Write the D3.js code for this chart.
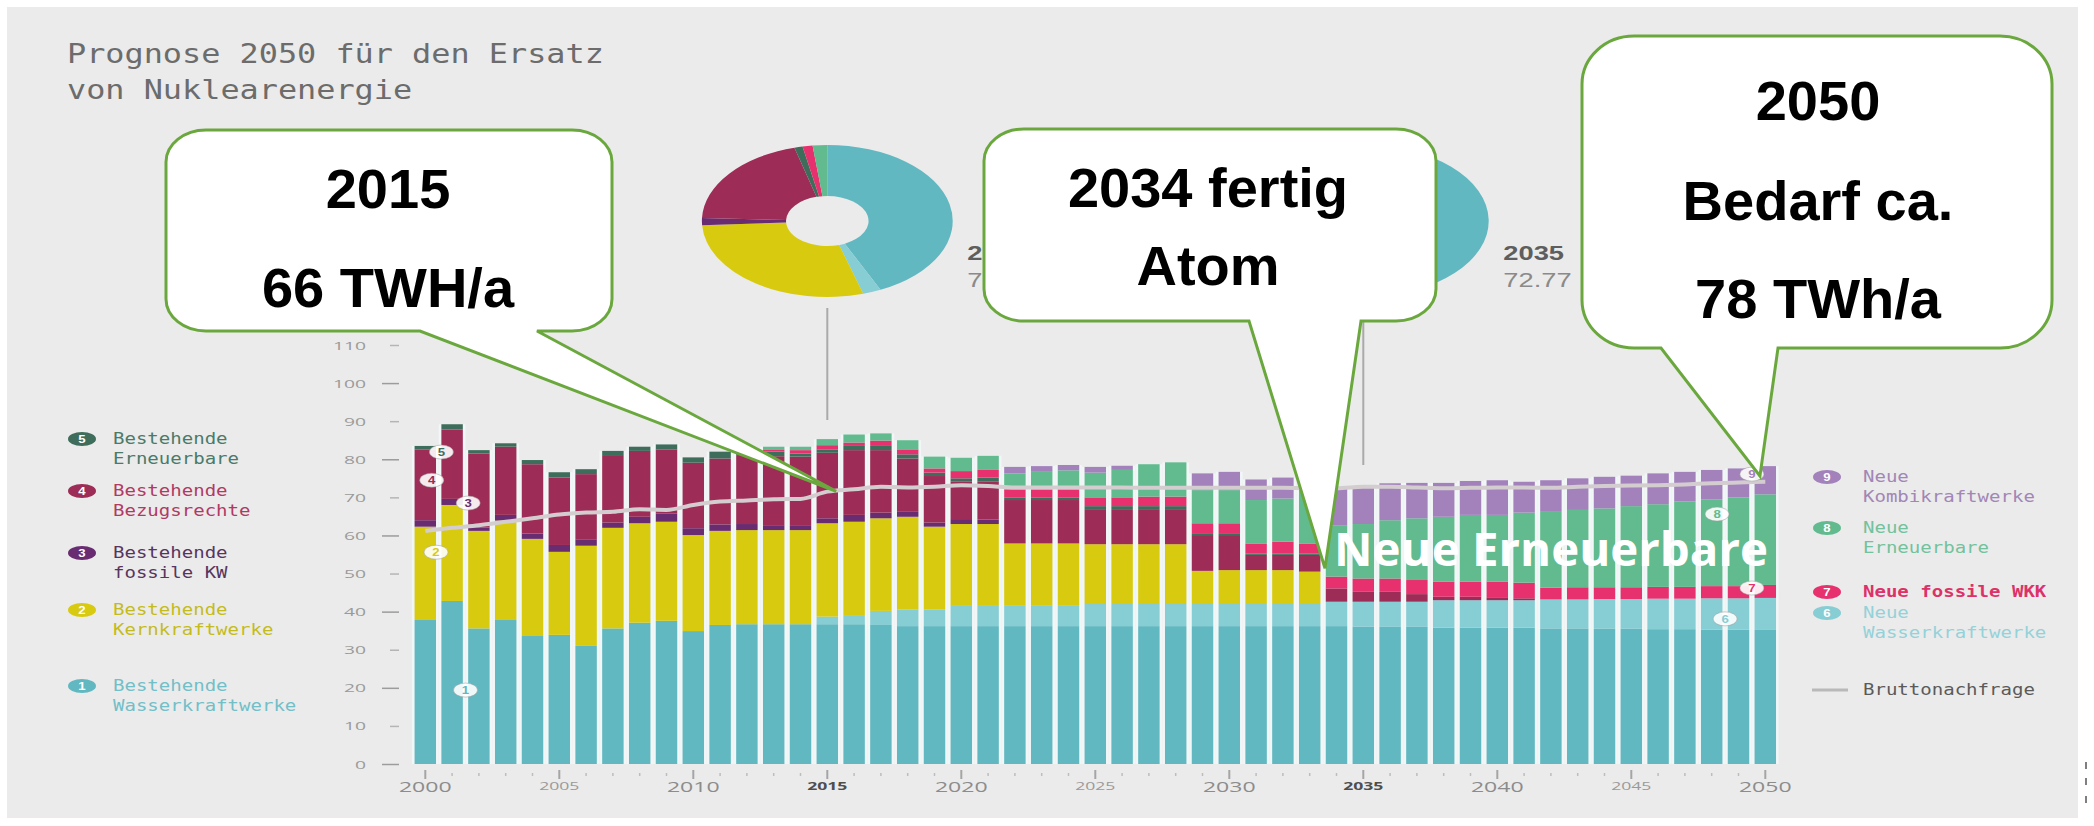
<!DOCTYPE html>
<html>
<head>
<meta charset="utf-8">
<script src="https://cdn.jsdelivr.net/npm/d3@7"></script>
<style>
  body { margin: 0; background: #ffffff; }
  svg { display: block; }
</style>
</head>
<body>
<svg id="chart" width="2094" height="826"></svg>
<script>
// ---- data (TWh per year) ----
var years = d3.range(2000, 2051);

var hydro = [37.8, 42.8, 35.6, 37.8, 33.6, 33.9, 31.0, 35.6, 37.1, 37.6, 34.9, 36.5, 36.7, 36.7, 36.7,
  36.7, 36.7, 36.5, 36.2, 36.2, 36.2, 36.2, 36.2, 36.2, 36.2, 36.2, 36.2, 36.2, 36.2, 36.2, 36.2, 36.2, 36.2, 36.2, 36.2, 36.1, 36.0, 36.0,
  35.8, 35.8, 35.8, 35.8, 35.6, 35.6, 35.5, 35.5, 35.4, 35.4, 35.3, 35.3, 35.2];
var newHydro = [0, 0, 0, 0, 0, 0, 0, 0, 0, 0, 0, 0, 0, 0, 0,
  2.0, 2.4, 3.7, 4.4, 4.4, 5.3, 5.3, 5.5, 5.5, 5.5, 5.8, 5.8, 5.8, 5.8, 5.8, 5.8, 5.8, 5.8, 5.8, 6.4, 6.5, 6.6, 6.6,
  7.2, 7.2, 7.2, 7.2, 7.6, 7.6, 7.8, 7.8, 8.0, 8.0, 8.2, 8.2, 8.4];
var nuclear = [24.5, 25.2, 25.6, 26.1, 25.5, 21.8, 26.3, 26.4, 26.1, 26.0, 25.2, 24.7, 24.7, 24.7, 24.7,
  24.5, 24.5, 24.3, 24.3, 21.7, 21.5, 21.5, 16.2, 16.2, 16.2, 15.7, 15.7, 15.7, 15.7, 8.7, 8.9, 8.9, 8.9, 8.5,
  0, 0, 0, 0, 0, 0, 0, 0, 0, 0, 0, 0, 0, 0, 0, 0, 0];
var fossil = [1.7, 1.6, 0.9, 1.5, 1.4, 1.8, 1.7, 1.4, 1.7, 2.2, 1.8, 1.7, 1.6, 1.3, 1.3,
  1.3, 1.8, 1.5, 1.3, 1.1, 1.3, 1.2,
  0, 0, 0, 0, 0, 0, 0, 0, 0, 0, 0, 0, 0, 0, 0, 0, 0, 0, 0, 0, 0, 0, 0, 0, 0, 0, 0, 0, 0];
var bezug = [18.6, 18.2, 19.4, 17.9, 18.2, 17.7, 17.1, 17.7, 17.3, 16.8, 17.2, 17.3, 18.1, 18.1, 18.0,
  17.2, 17.0, 16.4, 14.0, 12.2, 9.8, 9.9, 11.4, 11.4, 11.4, 9.0, 9.0, 9.0, 9.0, 9.4, 9.2, 4.0, 4.0, 4.4,
  3.5, 2.6, 2.6, 2.0, 0.9, 0.9, 0.6, 0.5, 0, 0, 0, 0, 0, 0, 0, 0, 0];
var ren = [0.9, 1.4, 0.9, 0.9, 1.1, 1.4, 1.3, 1.1, 1.1, 1.3, 1.4, 1.8, 1.3, 1.2, 0.8,
  0.9, 1.1, 1.1, 1.1, 0.9, 0.9, 1.1, 0.7, 0.6, 0.6, 1.0, 1.0, 1.0, 1.0, 0.5, 0.5, 0.3, 0.3, 0.3,
  0, 0, 0, 0, 0, 0, 0, 0, 0, 0, 0, 0, 0, 0, 0, 0, 0];
var newFossil = [0, 0, 0, 0, 0, 0, 0, 0, 0, 0, 0, 0, 0, 0.6, 0.9,
  1.1, 0.9, 1.4, 1.3, 1.1, 1.9, 2.0, 2.1, 2.2, 2.2, 2.3, 2.3, 2.5, 2.5, 2.6, 2.6, 2.7, 3.2, 2.7,
  3.1, 3.5, 3.5, 3.7, 4.0, 4.0, 4.3, 4.1, 3.1, 3.2, 3.1, 3.1, 3.1, 3.1, 3.2, 3.2, 3.4];
var newRen = [0, 0, 0, 0, 0, 0, 0, 0, 0, 0, 0, 0, 0, 0.7, 0.9,
  1.6, 2.1, 1.9, 2.4, 3.1, 3.5, 3.7, 4.2, 4.6, 5.0, 6.5, 7.2, 8.5, 9.0, 8.7, 8.7, 11.4, 11.3, 14.9,
  13.5, 14.3, 15.3, 16.2, 17.0, 17.5, 17.5, 18.4, 19.9, 20.3, 20.7, 21.3, 21.7, 22.4, 22.8, 23.3, 23.8];
var kombi = [0, 0, 0, 0, 0, 0, 0, 0, 0, 0, 0, 0, 0, 0, 0,
  0, 0, 0, 0, 0, 0, 0, 1.7, 1.5, 1.4, 1.5, 1.1, 0, 0, 4.4, 4.8, 5.4, 5.5, 0,
  9.9, 10.0, 9.7, 9.3, 8.9, 8.9, 9.1, 8.1, 8.3, 8.3, 8.3, 8.0, 8.1, 7.8, 7.7, 7.6, 7.4];
var demand = [61.2, 62.0, 62.7, 63.6, 64.5, 65.5, 66.0, 66.2, 66.9, 66.7, 68.0, 68.9, 69.2, 69.5, 69.6,
  71.5, 72.1, 72.8, 72.6, 72.8, 73.2, 73.0, 72.6, 72.6, 72.6, 72.6, 72.6, 72.5, 72.5, 72.5, 72.5, 72.5, 72.5, 72.4, 72.4, 72.77, 72.8, 72.6,
  72.4, 72.5, 72.6, 72.6, 72.5, 72.8, 73.0, 73.1, 73.2, 73.4, 73.7, 73.9, 74.1];

var seriesKeys = ["hydro", "newHydro", "nuclear", "fossil", "bezug", "ren", "newFossil", "newRen", "kombi"];
var seriesValues = [hydro, newHydro, nuclear, fossil, bezug, ren, newFossil, newRen, kombi];
var seriesNumbers = ["1", "6", "2", "3", "4", "5", "7", "8", "9"];
var seriesColors = ["#62b8c1", "#86cdd4", "#d8ca0f", "#6a2c70", "#9d2c56", "#3f6d5b", "#e6316e", "#61bb8f", "#a381bb"];
var legendTextColors = ["#72bfc8", "#94d2d9", "#c4bb1c", "#573560", "#b03a63", "#4a7a68", "#dd3169", "#72c29d", "#a286b5"];

var yTicks = [0, 10, 20, 30, 40, 50, 60, 70, 80, 90, 100, 110];
var xLabelsBig = [2000, 2010, 2020, 2030, 2040, 2050];
var xLabelsSmall = [2005, 2025, 2045];
var xLabelsBold = [2015, 2035];
var donutYears = [2015, 2035];

var titleLines = ["Prognose 2050 für den Ersatz", "von Nuklearenergie"];
var legendLeft = [
  { key: "ren", lines: ["Bestehende", "Erneuerbare"] },
  { key: "bezug", lines: ["Bestehende", "Bezugsrechte"] },
  { key: "fossil", lines: ["Bestehende", "fossile KW"] },
  { key: "nuclear", lines: ["Bestehende", "Kernkraftwerke"] },
  { key: "hydro", lines: ["Bestehende", "Wasserkraftwerke"] }
];
var legendRight = [
  { key: "kombi", lines: ["Neue", "Kombikraftwerke"] },
  { key: "newRen", lines: ["Neue", "Erneuerbare"] },
  { key: "newFossil", lines: ["Neue fossile WKK"] },
  { key: "newHydro", lines: ["Neue", "Wasserkraftwerke"] }
];
var demandLabel = "Bruttonachfrage";

// series badges on the bars: [key, year, value]
var badges = [
  ["ren", 2000.6, 81.9], ["bezug", 2000.24, 74.5], ["fossil", 2001.6, 68.5],
  ["nuclear", 2000.4, 55.6], ["hydro", 2001.5, 19.4],
  ["kombi", 2049.5, 76.1], ["newRen", 2048.2, 65.6], ["newFossil", 2049.5, 46.2], ["newHydro", 2048.5, 38.1]
];

var callouts = [
  { lines: ["2015", "66 TWH/a"], tip: [2015.33, 71.6] },
  { lines: ["2034 fertig", "Atom"], tip: [2033.57, 51.4] },
  { lines: ["2050", "Bedarf ca.", "78 TWh/a"], tip: [2049.8, 75.6] }
];
var bigLabel = "Neue Erneuerbare";

// ---- layout ----
var width = 2094, height = 826;
var svg = d3.select("#chart");

var x = d3.scaleBand().domain(years).range([411.9, 1778.7]).paddingInner(0.2).paddingOuter(0.1);
var y = d3.scaleLinear().domain([0, 110]).range([764, 345]);
var bw = x.bandwidth();
var xc = d3.scaleLinear().domain([2000, 2050]).range([x(2000) + bw / 2, x(2050) + bw / 2]);

var colorOf = {}, numberOf = {}, textColorOf = {};
seriesKeys.forEach(function (k, i) {
  colorOf[k] = seriesColors[i];
  numberOf[k] = seriesNumbers[i];
  textColorOf[k] = legendTextColors[i];
});

var rows = years.map(function (yr, i) {
  var r = { year: yr };
  seriesKeys.forEach(function (k, j) { r[k] = seriesValues[j][i]; });
  return r;
});
var stacked = d3.stack().keys(seriesKeys)(rows);

// text drawn horizontally stretched, like the original infographic
function stretchText(parent, px, py, sx, txt) {
  return parent.append("text")
    .attr("transform", "translate(" + px + "," + py + ") scale(" + sx + ",1)")
    .text(txt);
}

// background panel
svg.append("rect").attr("x", 0).attr("y", 0).attr("width", width).attr("height", height).attr("fill", "#ffffff");
svg.append("rect").attr("x", 7).attr("y", 7).attr("width", 2071).attr("height", 811).attr("fill", "#ebebeb");
// small stray marks at the right border
[762, 778, 796].forEach(function (v) {
  svg.append("line").attr("x1", 2086).attr("x2", 2086).attr("y1", v).attr("y2", v + 7)
    .attr("stroke", "#555").attr("stroke-width", 1.5);
});

// title
var title = svg.append("g")
  .style("font-family", "'DejaVu Sans Mono', 'Liberation Mono', monospace")
  .style("font-size", "27px")
  .style("fill", "#6c6c6c");
titleLines.forEach(function (t, i) {
  stretchText(title, 67, 63 + i * 36, 1.18, t);
});

// donuts
var pie = d3.pie().sort(null).value(function (d) { return d.v; });
var arc = d3.arc().innerRadius(25).outerRadius(76);
donutYears.forEach(function (yr) {
  var idx = years.indexOf(yr);
  var parts = seriesKeys.map(function (k, j) { return { k: k, v: seriesValues[j][idx] }; });
  var cx = x(yr) + bw / 2;
  // connector line
  svg.append("line")
    .attr("x1", cx).attr("x2", cx)
    .attr("y1", 308).attr("y2", yr === 2015 ? 420 : 465)
    .attr("stroke", "#a9a9a9").attr("stroke-width", 2);
  var g = svg.append("g").attr("transform", "translate(" + cx + ",221) scale(1.65,1)");
  g.selectAll("path").data(pie(parts)).join("path")
    .attr("d", arc)
    .attr("fill", function (d) { return colorOf[d.data.k]; });
  var lab = svg.append("g").style("font-family", "'Liberation Sans', Arial, sans-serif");
  stretchText(lab, cx + 140, 260, 1.3, String(yr))
    .style("font-size", "21px").style("font-weight", "bold").style("fill", "#5e5e5e");
  stretchText(lab, cx + 140, 287, 1.3, d3.format(".2f")(demand[idx]))
    .style("font-size", "21px").style("fill", "#8a8a8a");
});

// bars: light backing column, then stacked segments
svg.append("g").selectAll("rect").data(rows).join("rect")
  .attr("x", function (d) { return x(d.year) - (x.step() - bw) / 2; })
  .attr("width", x.step())
  .attr("y", function (d, i) { return y(stacked[stacked.length - 1][i][1]); })
  .attr("height", function (d, i) { return y(0) - y(stacked[stacked.length - 1][i][1]); })
  .attr("fill", "#f1f6f7");

svg.append("g").selectAll("g").data(stacked).join("g")
  .attr("fill", function (s) { return colorOf[s.key]; })
  .selectAll("rect").data(function (s) { return s; }).join("rect")
  .attr("x", function (d) { return x(d.data.year); })
  .attr("width", bw)
  .attr("y", function (d) { return y(d[1]); })
  .attr("height", function (d) { return Math.max(0, y(d[0]) - y(d[1])); });

// demand line
var line = d3.line()
  .x(function (d, i) { return x(years[i]) + bw / 2; })
  .y(function (d) { return y(d); })
  .curve(d3.curveMonotoneX);
svg.append("path").datum(demand)
  .attr("d", line)
  .attr("fill", "none")
  .attr("stroke", "#d3cdd0")
  .attr("stroke-width", 4);

// number badges on the bars
var bg = svg.append("g").style("font-family", "'Liberation Sans', Arial, sans-serif");
badges.forEach(function (b) {
  var bx = xc(b[1]), by = y(b[2]);
  bg.append("ellipse").attr("cx", bx).attr("cy", by).attr("rx", 12).attr("ry", 7)
    .attr("fill", "#ffffff").attr("fill-opacity", 0.9)
    .attr("stroke", "#9a9a9a").attr("stroke-opacity", 0.5).attr("stroke-width", 1);
  stretchText(bg, bx, by + 4, 1.2, numberOf[b[0]])
    .attr("text-anchor", "middle")
    .style("font-size", "11px").style("font-weight", "bold")
    .style("fill", colorOf[b[0]]);
});

// y axis
var gy = svg.append("g").attr("transform", "translate(400,0)")
  .call(d3.axisLeft(y).tickValues(yTicks).tickSize(0).tickFormat(""));
gy.select(".domain").remove();
gy.selectAll(".tick").each(function (d) {
  var t = d3.select(this);
  var major = d % 20 === 0;
  t.append("line").attr("x1", major ? -18 : -10).attr("x2", -1)
    .attr("stroke", major ? "#9c9c9c" : "#b5b5b5").attr("stroke-width", 1.5);
  stretchText(t, -34, 4, 1.75, d)
    .attr("text-anchor", "end")
    .style("font-family", "'Open Sans', sans-serif")
    .style("font-size", "11px")
    .style("fill", "#9a9a9a");
});

// x axis
var gx = svg.append("g").attr("transform", "translate(0,770)")
  .call(d3.axisBottom(x).tickSize(0).tickFormat(""));
gx.select(".domain").remove();
gx.selectAll(".tick").each(function (d) {
  var t = d3.select(this);
  var major = d % 5 === 0;
  t.append("line").attr("y1", major ? 0 : 3).attr("y2", major ? 9 : 6)
    .attr("stroke", major ? "#a5a5a5" : "#bdbdbd").attr("stroke-width", major ? 2 : 1.5);
  var txt = null;
  if (xLabelsBig.indexOf(d) >= 0) {
    txt = stretchText(t, 0, 22, 1.65, d).style("font-size", "14px").style("fill", "#8c8c8c");
  } else if (xLabelsSmall.indexOf(d) >= 0) {
    txt = stretchText(t, 0, 20, 1.6, d).style("font-size", "11px").style("fill", "#9a9a9a");
  } else if (xLabelsBold.indexOf(d) >= 0) {
    txt = stretchText(t, 0, 20, 1.6, d).style("font-size", "11px").style("font-weight", "bold").style("fill", "#4e4e4e");
  }
  if (txt) txt.attr("text-anchor", "middle").style("font-family", "'Open Sans', sans-serif");
});

// legends
function drawLegend(items, lx, tx, ys) {
  var g = svg.append("g").style("font-family", "'DejaVu Sans Mono', 'Liberation Mono', monospace");
  items.forEach(function (it, i) {
    var cy = ys[i];
    g.append("ellipse").attr("cx", lx).attr("cy", cy).attr("rx", 14).attr("ry", 7)
      .attr("fill", colorOf[it.key]);
    stretchText(g, lx, cy + 4, 1.2, numberOf[it.key])
      .attr("text-anchor", "middle")
      .style("font-family", "'Liberation Sans', Arial, sans-serif")
      .style("font-size", "11px").style("font-weight", "bold").style("fill", "#ffffff");
    it.lines.forEach(function (l, j) {
      stretchText(g, tx, cy + 5 + j * 20, 1.27, l)
        .style("font-size", "15px")
        .style("font-weight", it.key === "newFossil" ? "bold" : "normal")
        .style("fill", textColorOf[it.key]);
    });
  });
  return g;
}
drawLegend(legendLeft, 82, 113, [439, 491, 553, 610, 686]);
var lr = drawLegend(legendRight, 1827, 1863, [477, 528, 592, 613]);
lr.append("line").attr("x1", 1812).attr("x2", 1848).attr("y1", 690).attr("y2", 690)
  .attr("stroke", "#b9b9b9").attr("stroke-width", 3);
stretchText(lr, 1863, 695, 1.27, demandLabel)
  .style("font-size", "15px").style("fill", "#5a5a5a");

// big white label across the new renewables
svg.append("text")
  .attr("x", 1334).attr("y", 566)
  .attr("textLength", 434).attr("lengthAdjust", "spacingAndGlyphs")
  .style("font-family", "'Open Sans', 'Noto Sans', sans-serif")
  .style("font-size", "46px").style("font-weight", "bold")
  .style("fill", "#ffffff")
  .text(bigLabel);

// callouts
function calloutPath(b, a0, a1, tx, ty) {
  var rx = b.rx, ry = b.ry;
  return "M" + (b.x0 + rx) + "," + b.y0 +
    "H" + (b.x1 - rx) + "A" + rx + "," + ry + " 0 0 1 " + b.x1 + "," + (b.y0 + ry) +
    "V" + (b.y1 - ry) + "A" + rx + "," + ry + " 0 0 1 " + (b.x1 - rx) + "," + b.y1 +
    "H" + a1 + "L" + tx + "," + ty + "L" + a0 + "," + b.y1 +
    "H" + (b.x0 + rx) + "A" + rx + "," + ry + " 0 0 1 " + b.x0 + "," + (b.y1 - ry) +
    "V" + (b.y0 + ry) + "A" + rx + "," + ry + " 0 0 1 " + (b.x0 + rx) + "," + b.y0 + "Z";
}
var boxes = [
  { x0: 166, y0: 130, x1: 612, y1: 331, rx: 40, ry: 32, a0: 420, a1: 537, cx: 388, base: [208, 307] },
  { x0: 984, y0: 129, x1: 1436, y1: 321, rx: 40, ry: 32, a0: 1249, a1: 1361, cx: 1208, base: [207, 285] },
  { x0: 1582, y0: 36, x1: 2052, y1: 348, rx: 52, ry: 48, a0: 1661, a1: 1778, cx: 1818, base: [120, 220, 318] }
];
var cg = svg.append("g");
callouts.forEach(function (c, i) {
  var b = boxes[i];
  cg.append("path")
    .attr("d", calloutPath(b, b.a0, b.a1, xc(c.tip[0]), y(c.tip[1])))
    .attr("fill", "#ffffff")
    .attr("stroke", "#6aa83e")
    .attr("stroke-width", 3)
    .attr("stroke-linejoin", "miter");
  c.lines.forEach(function (l, j) {
    cg.append("text")
      .attr("x", b.cx).attr("y", b.base[j])
      .attr("text-anchor", "middle")
      .style("font-family", "'Liberation Sans', Arial, sans-serif")
      .style("font-size", "56px").style("font-weight", "bold")
      .style("fill", "#000000")
      .text(l);
  });
});
</script>
</body>
</html>
